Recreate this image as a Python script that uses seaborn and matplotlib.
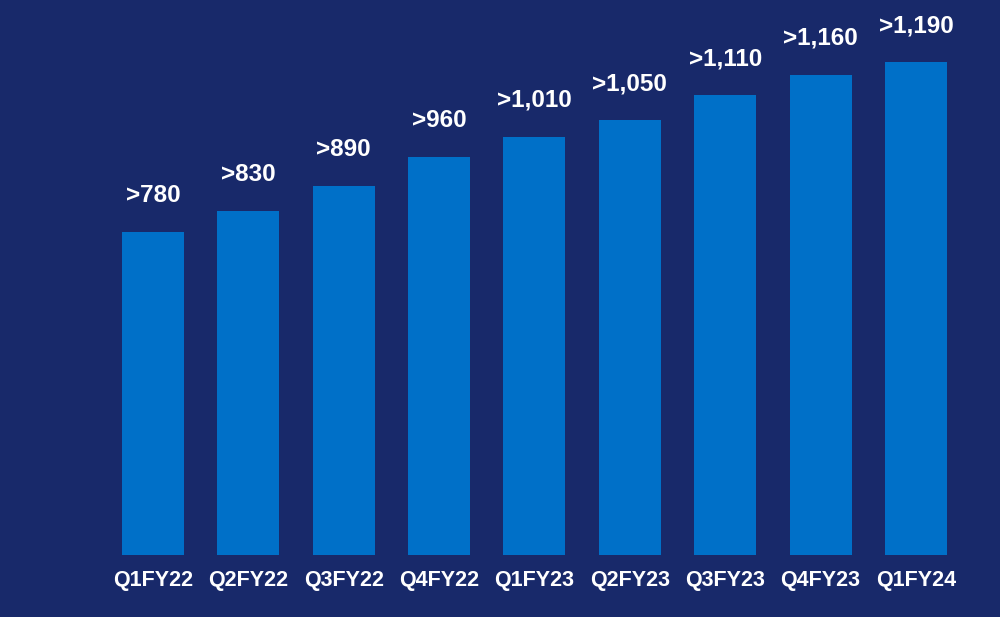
import matplotlib
matplotlib.use("Agg")
import matplotlib.pyplot as plt
import seaborn as sns
import pandas as pd

quarters = ["Q1FY22", "Q2FY22", "Q3FY22", "Q4FY22", "Q1FY23", "Q2FY23", "Q3FY23", "Q4FY23", "Q1FY24"]
values = [780, 830, 890, 960, 1010, 1050, 1110, 1160, 1190]
labels = [">780", ">830", ">890", ">960", ">1,010", ">1,050", ">1,110", ">1,160", ">1,190"]

BG = "#18296a"
BAR = "#0070c8"

sns.set_theme(style="white")
plt.rcParams["font.family"] = ["Liberation Sans", "DejaVu Sans"]

df = pd.DataFrame({"quarter": quarters, "value": values})

fig = plt.figure(figsize=(10, 6.17), dpi=100)
fig.patch.set_facecolor(BG)
ax = fig.add_axes([0, 62 / 617, 1, 555 / 617])
ax.set_facecolor(BG)

sns.barplot(data=df, x="quarter", y="value", color=BAR, saturation=1, width=0.65,
            linewidth=0, edgecolor=BAR, ax=ax)

ax.set_xlim(-1.604, 8.881)
ax.set_ylim(0, 1340)
for s in ax.spines.values():
    s.set_visible(False)
ax.set_yticks([])
ax.set_xlabel("")
ax.set_ylabel("")
ax.tick_params(axis="x", length=0, pad=11, colors="white", labelsize=15.5)
for t in ax.get_xticklabels():
    t.set_fontweight("bold")
    t.set_color("white")

for i, (v, lab) in enumerate(zip(values, labels)):
    ax.annotate(lab, (i, v), xytext=(0, 18), textcoords="offset points",
                ha="center", va="bottom", color="white", fontsize=17.5, fontweight="bold")

fig.savefig("out.png", dpi=100, facecolor=BG)
